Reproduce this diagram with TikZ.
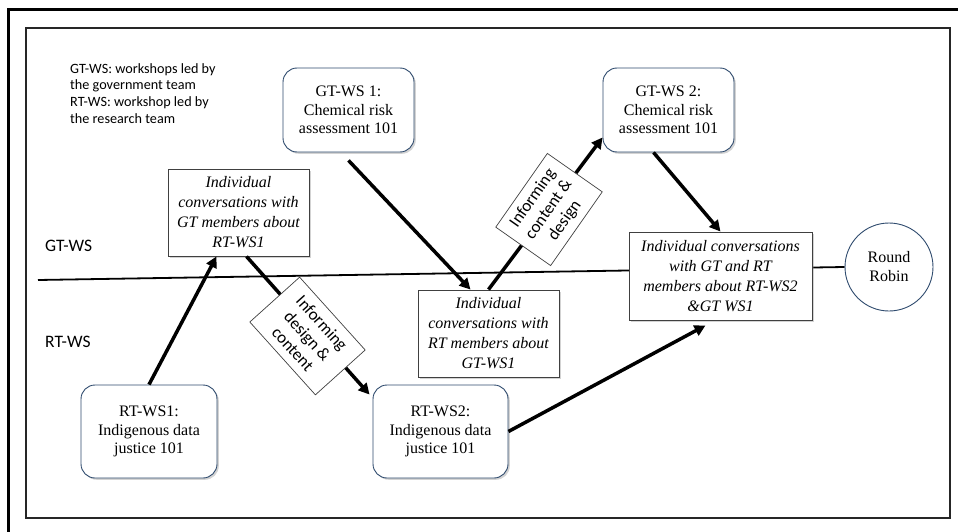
\documentclass[tikz,border=0pt]{standalone}
\usepackage{fontspec}
\setmainfont{Liberation Serif}
\newfontfamily\calibri{Carlito}
\usetikzlibrary{arrows.meta,shadows,backgrounds}
\definecolor{boxblue}{HTML}{2F4B6E}
\definecolor{boxgray}{HTML}{404040}
\begin{document}
\begin{tikzpicture}[x=1pt,y=-1pt,
  shad/.style={drop shadow={shadow xshift=1.8pt,shadow yshift=-1.8pt,opacity=0.35,fill=gray}},
  rbox/.style={draw=boxblue, line width=0.9pt, rounded corners=14pt, fill=white,
    minimum width=131pt, minimum height=84pt, align=center, inner sep=2pt,
    font=\fontsize{16}{18.5}\selectfont, shad},
  ibox/.style={draw=boxgray, line width=0.9pt, fill=white, align=center, inner sep=1pt,
    minimum width=141pt, minimum height=87pt, font=\fontsize{16}{20}\selectfont\itshape, shad},
  lab/.style={draw=boxgray, line width=0.7pt, fill=white, align=center, inner sep=2pt,
    font=\calibri\fontsize{17}{19.5}\selectfont},
  side/.style={anchor=west, font=\calibri\fontsize{17.5}{20}\selectfont, inner sep=0pt},
  arr/.style={line width=3.5pt, -{Triangle[length=11pt,width=11pt]}},
]
\useasboundingbox (0,0) rectangle (958,532);

% legend
\node[anchor=north west, align=left, inner sep=0pt,
  font=\calibri\fontsize{14.2}{16.8}\selectfont] (legend) at (70,63)
  {GT-WS: workshops led by\\the government team\\RT-WS: workshop led by\\the research team};

\node[side] (gtlab) at (45,246) {GT-WS};
\node[side] (rtlab) at (45,342) {RT-WS};

% main nodes
\node[rbox] (GT1) at (348.5,110) {GT-WS 1:\\Chemical risk\\assessment 101};
\node[rbox] (GT2) at (668.5,110) {GT-WS 2:\\Chemical risk\\assessment 101};
\node[rbox, minimum width=136pt, minimum height=93pt] (RT1) at (149,431.5) {RT-WS1:\\Indigenous data\\justice 101};
\node[rbox, minimum width=135pt, minimum height=93pt] (RT2) at (440.5,431.5) {RT-WS2:\\Indigenous data\\justice 101};
\node[ibox] (I1) at (238.5,212.5) {Individual\\conversations with\\GT members about\\RT-WS1};
\node[ibox] (I2) at (488.5,333.5) {Individual\\conversations with\\RT members about\\GT-WS1};
\node[ibox, minimum width=183pt, minimum height=88pt] (I3) at (720.5,276) {Individual conversations\\with GT and RT\\members about RT-WS2\\\&GT WS1};
\node[circle, draw=boxblue, line width=0.9pt, fill=white, minimum size=88pt, inner sep=0pt,
  align=center, font=\fontsize{16}{19}\selectfont] (RR) at (889,267) {Round\\Robin};

\coordinate (hl) at (38,280);
\coordinate (ol1) at (8.5,532);
\coordinate (ol2) at (8.5,9.5);
\coordinate (ol3) at (958,9.5);
\coordinate (if1) at (26,28);
\coordinate (if2) at (950,518);

\begin{scope}[on background layer]
  \draw[line width=2.8pt] (ol1) -- (ol2) -- (ol3);
  \draw[line width=1.8pt, draw=black!85] (if1) rectangle (if2);
  \draw[line width=1.8pt] (hl) -- (RR.west);
\end{scope}

% arrows
\draw[arr] (RT1.north) -- ([xshift=-22pt]I1.south);
\draw[arr] ([xshift=8pt]I1.south) -- ([xshift=-3pt,yshift=-10pt]RT2.north west);
\draw[arr] ([yshift=-8pt]GT1.south) -- ([xshift=-18pt]I2.north);
\draw[arr] (I2.north) -- ([yshift=15pt]GT2.south west);
\draw[arr] ([xshift=-15pt]GT2.south) -- (I3.north);
\draw[arr] (RT2.east) -- ([xshift=-15pt,yshift=-5pt]I3.south);

% labels on arrows
\node[lab, minimum width=98pt, minimum height=67pt, rotate=-48] (L1) at (307.5,336) {Informing\\design \&\\content};
\node[lab, minimum width=90pt, minimum height=67pt, rotate=55] (L2) at (549,209.5) {Informing\\content \&\\design};
\end{tikzpicture}
\end{document}
